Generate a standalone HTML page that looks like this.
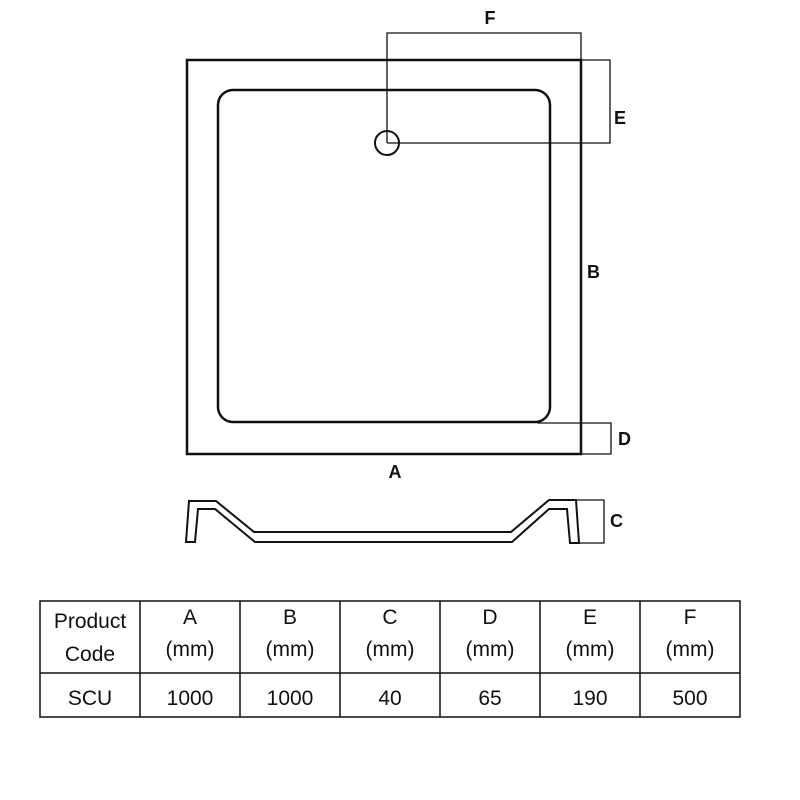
<!DOCTYPE html>
<html><head><style>
body{margin:0;background:#fff;width:800px;height:800px;overflow:hidden}
svg{position:absolute;left:0;top:0}
</style></head><body>
<svg width="800" height="800" viewBox="0 0 800 800">
<g fill="none" stroke="#111">
<rect x="187" y="60" width="394" height="394" stroke-width="2.5"/>
<rect x="218" y="90" width="332" height="332" rx="15" stroke-width="2.5"/>
<circle cx="387" cy="143" r="12" stroke-width="2"/>
<g stroke-width="1.3">
<polyline points="387,143 387,33 581,33 581,60"/>
<polyline points="387,143 610,143 610,60 581,60"/>
<polyline points="537,423 611,423 611,454 581,454"/>
<polyline points="576,500 604,500 604,543 579,543"/>
</g>
<polygon stroke-width="2" points="189,501 216,501 254,532 511,532 549,500 576,500 579,543 570,543 567,509 549,509 512,542 255,542 215,509 198,509 195,542 186,542"/>
<g stroke-width="1.5">
<rect x="40" y="601" width="700" height="116"/>
<line x1="40" y1="673" x2="740" y2="673"/>
<line x1="140" y1="601" x2="140" y2="717"/>
<line x1="240" y1="601" x2="240" y2="717"/>
<line x1="340" y1="601" x2="340" y2="717"/>
<line x1="440" y1="601" x2="440" y2="717"/>
<line x1="540" y1="601" x2="540" y2="717"/>
<line x1="640" y1="601" x2="640" y2="717"/>
</g>
</g>
<g font-family="Liberation Sans, sans-serif" font-weight="bold" font-size="18" fill="#111">
<text x="490" y="24" text-anchor="middle">F</text>
<text x="614" y="124">E</text>
<text x="587" y="278">B</text>
<text x="618" y="445">D</text>
<text x="395" y="478" text-anchor="middle">A</text>
<text x="610" y="527">C</text>
</g>
<g font-family="Liberation Sans, sans-serif" font-size="21" fill="#111" text-anchor="middle">
<text x="90" y="628">Product</text><text x="90" y="661">Code</text>
<text x="190" y="624">A</text><text x="190" y="656">(mm)</text>
<text x="290" y="624">B</text><text x="290" y="656">(mm)</text>
<text x="390" y="624">C</text><text x="390" y="656">(mm)</text>
<text x="490" y="624">D</text><text x="490" y="656">(mm)</text>
<text x="590" y="624">E</text><text x="590" y="656">(mm)</text>
<text x="690" y="624">F</text><text x="690" y="656">(mm)</text>
<text x="90" y="705">SCU</text>
<text x="190" y="705">1000</text>
<text x="290" y="705">1000</text>
<text x="390" y="705">40</text>
<text x="490" y="705">65</text>
<text x="590" y="705">190</text>
<text x="690" y="705">500</text>
</g>
</svg>
</body></html>
